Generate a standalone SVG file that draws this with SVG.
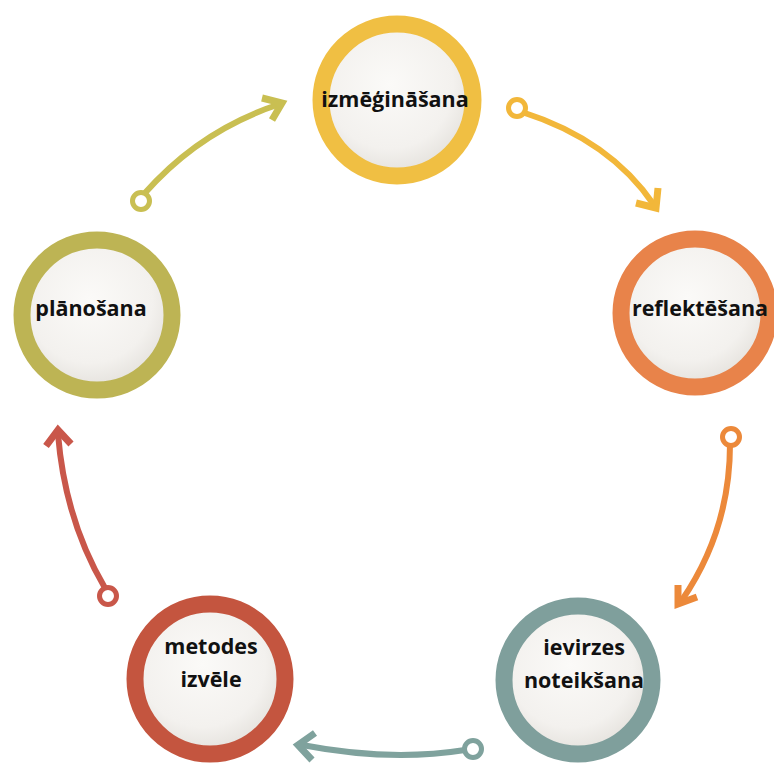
<svg xmlns="http://www.w3.org/2000/svg" width="774" height="765" viewBox="0 0 774 765">
<defs>
<radialGradient id="inner" cx="45%" cy="40%" r="60%">
<stop offset="0" stop-color="#fbfaf8"/>
<stop offset="0.7" stop-color="#f3f1ee"/>
<stop offset="1" stop-color="#e4e1dc"/>
</radialGradient>
<style>
.ring{fill:url(#inner);stroke-width:17}
.lbl{font-family:"Open Sans","Liberation Sans",sans-serif;font-weight:700;font-size:21.5px;fill:#111;text-anchor:middle}
.ln{fill:none;stroke-width:6;stroke-linecap:round}
.hd{fill:none;stroke-width:7;stroke-linecap:butt;stroke-linejoin:miter}
.dot{fill:#fff;stroke-width:5}
</style>
</defs>
<rect width="774" height="765" fill="#fff"/>
<g id="connectors">
<g id="c1" stroke="#c9bf52">
<path class="ln" d="M144,194 Q200,130 280,104"/>
<path class="hd" d="M262,98 L282,103 L272,120"/>
<circle class="dot" cx="141" cy="201" r="8.5"/>
</g>
<g id="c2" stroke="#f2b73a">
<path class="ln" d="M522,112 Q610,140 654,205"/>
<path class="hd" d="M636,203 L656,208 L658,188"/>
<circle class="dot" cx="517" cy="108" r="8.5"/>
</g>
<g id="c3" stroke="#ec893a">
<path class="ln" d="M730,444 Q730,530 682,600"/>
<path class="hd" d="M678,585 L678,604 L697,597"/>
<circle class="dot" cx="731" cy="437" r="8.5"/>
</g>
<g id="c4" stroke="#7fa29d">
<path class="ln" d="M465,750 Q390,762 302,745"/>
<path class="hd" d="M315,733 L298,745 L312,760"/>
<circle class="dot" cx="473" cy="749" r="8.5"/>
</g>
<g id="c5" stroke="#c9574a">
<path class="ln" d="M105,588 Q65,520 58,434"/>
<path class="hd" d="M46,446 L58,430 L71,444"/>
<circle class="dot" cx="108" cy="596" r="8.5"/>
</g>
</g>
<g id="n1"><circle class="ring" cx="397" cy="100" r="76" stroke="#f0bf43"/><text class="lbl" x="395" y="107">izmēģināšana</text></g>
<g id="n2"><circle class="ring" cx="695" cy="313" r="74" stroke="#e8834a"/><text class="lbl" x="700" y="316">reflektēšana</text></g>
<g id="n3"><circle class="ring" cx="578" cy="680" r="74" stroke="#7f9f9c"/><text class="lbl" x="584" y="655">ievirzes</text><text class="lbl" x="584" y="688">noteikšana</text></g>
<g id="n4"><circle class="ring" cx="210" cy="679" r="75" stroke="#c4553f"/><text class="lbl" x="211" y="654">metodes</text><text class="lbl" x="211" y="687">izvēle</text></g>
<g id="n5"><circle class="ring" cx="97" cy="315" r="75" stroke="#bdb454"/><text class="lbl" x="91" y="316">plānošana</text></g>
</svg>
